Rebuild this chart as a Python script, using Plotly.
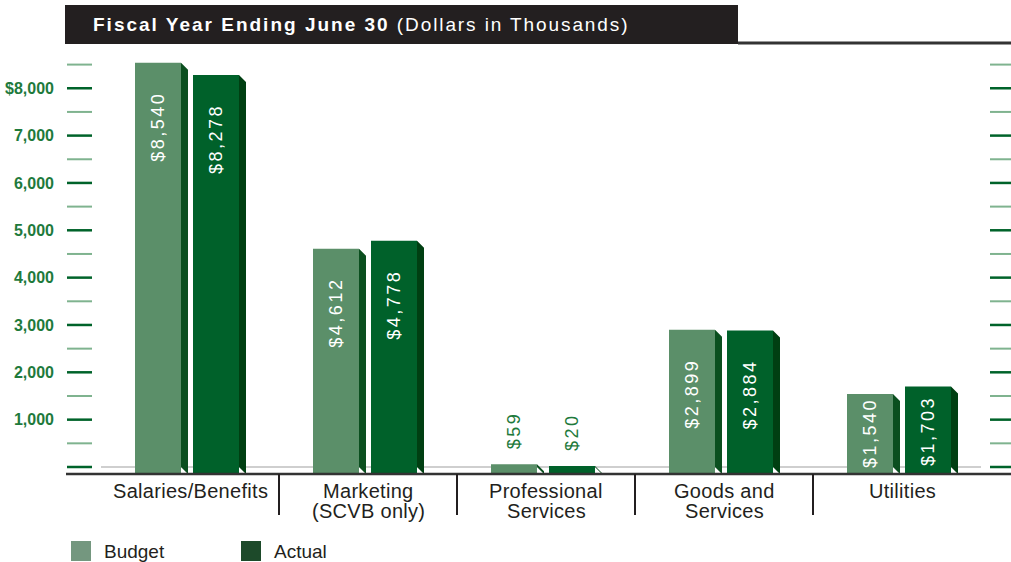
import plotly.graph_objects as go

# ---- data -------------------------------------------------------------
categories = ["Salaries/Benefits", "Marketing<br>(SCVB only)", "Professional<br>Services",
              "Goods and<br>Services", "Utilities"]
budget = [8540, 4612, 59, 2899, 1540]
actual = [8278, 4778, 20, 2884, 1703]
value_labels_budget = ["$8,540", "$4,612", "$59", "$2,899", "$1,540"]
value_labels_actual = ["$8,278", "$4,778", "$20", "$2,884", "$1,703"]
tick_values = [1000, 2000, 3000, 4000, 5000, 6000, 7000, 8000]
tick_labels = ["1,000", "2,000", "3,000", "4,000", "5,000", "6,000", "7,000", "$8,000"]
minor_tick_values = [500, 1500, 2500, 3500, 4500, 5500, 6500, 7500, 8500]

# ---- page geometry (pixels) ----------------------------------------------
W, H = 1011, 562
L, R = 101, 991          # plot area left / right
T, B = 44, 474           # plot area top / bottom (bottom = dark axis rule)
ZERO_PX = 467            # pixel row of value 0
UNIT_PX = 331.4 / 7000   # pixels per dollar (thousands)
CAT_PX = (R - L) / len(categories)
DEPTH = 7                # 3-D side depth in pixels
LABEL_LEN = 70           # approximate length of a rotated value label

y_lo = -(B - ZERO_PX) / UNIT_PX
y_hi = (ZERO_PX - T) / UNIT_PX
dx = DEPTH / CAT_PX
dy = DEPTH / UNIT_PX

BAR_W = 46 / CAT_PX
OFF_BUDGET = -55 / CAT_PX
OFF_ACTUAL = 3 / CAT_PX

C_BUDGET, C_BUDGET_SIDE = "#5b8f69", "#0b4f1f"
C_ACTUAL, C_ACTUAL_SIDE = "#00612a", "#003f12"
GREEN_TXT = "#1e7a3c"
INK = "#231f20"
FONT = "Liberation Sans, Arial, sans-serif"


def px_x(p):
    return (p - L) / (R - L)


def px_y(p):
    return (B - p) / (B - T)


xs = list(range(len(categories)))

fig = go.Figure()


def add_series(vals, off, face, side):
    # front faces
    fig.add_trace(go.Bar(x=xs, y=vals, width=[BAR_W] * len(xs), offset=off,
                         marker=dict(color=face, line=dict(width=0)),
                         showlegend=False, hoverinfo="skip"))
    # plinth below the zero line and the shaded right-hand side
    px_, py_, sx, sy = [], [], [], []
    for i, v in zip(xs, vals):
        x0 = i + off
        x1 = x0 + BAR_W
        cap = min(v, 1.0 / UNIT_PX)
        px_ += [x0, x1, x1, x0, x0, None]
        py_ += [cap, cap, y_lo, y_lo, cap, None]
        sx += [x1, x1 + dx, x1 + dx, x1, x1, None]
        sy += [v, v - dy, y_lo, 0, v, None]
    fig.add_trace(go.Scatter(x=px_, y=py_, fill="toself", fillcolor=face, mode="none",
                             showlegend=False, hoverinfo="skip"))
    fig.add_trace(go.Scatter(x=sx, y=sy, fill="toself", fillcolor=side, mode="none",
                             showlegend=False, hoverinfo="skip"))


add_series(budget, OFF_BUDGET, C_BUDGET, C_BUDGET_SIDE)
add_series(actual, OFF_ACTUAL, C_ACTUAL, C_ACTUAL_SIDE)

annotations = []

# value labels, rotated, inside the bar top (or above very short bars)
for vals, labels, off in ((budget, value_labels_budget, OFF_BUDGET),
                          (actual, value_labels_actual, OFF_ACTUAL)):
    for i, v, lab in zip(xs, vals, labels):
        inside = v > 600
        if inside:
            bar_px = v * UNIT_PX + (B - ZERO_PX)
            shift = -min(27, max(2, bar_px - LABEL_LEN - 10))
        else:
            shift = 13
        annotations.append(dict(
            x=i + off + BAR_W / 2, y=v, xref="x", yref="y",
            text=f'<span style="letter-spacing:2.5px">{lab}</span>',
            showarrow=False, textangle=-90,
            xanchor="center", yanchor="top" if inside else "bottom",
            yshift=shift,
            font=dict(family=FONT, size=18, color="white" if inside else GREEN_TXT)))

# category labels below the axis
for i, cat in zip(xs, categories):
    for k, line in enumerate(cat.split("<br>")):
        annotations.append(dict(
            x=i, y=px_y(491 + 20 * k), xref="x", yref="paper",
            text=f'<span style="letter-spacing:0.3px">{line}</span>',
            showarrow=False, xanchor="center", yanchor="middle",
            font=dict(family=FONT, size=20, color=INK)))

# title bar text
annotations.append(dict(
    x=px_x(91), y=px_y(25), xref="paper", yref="paper", xanchor="left", yanchor="middle",
    showarrow=False,
    text='<b><span style="letter-spacing:2px">Fiscal Year Ending June 30</span></b>'
         '<span style="letter-spacing:1.9px"> (Dollars in Thousands)</span>',
    font=dict(family=FONT, size=19, color="white")))

# legend
for x0, name, col in ((71, "Budget", "#74977f"), (241, "Actual", "#1d4a2a")):
    annotations.append(dict(
        x=px_x(x0 + 31), y=px_y(551), xref="paper", yref="paper", xanchor="left",
        yanchor="middle", showarrow=False, text=name,
        font=dict(family=FONT, size=19, color=INK)))

shapes = []
# title bar and top rule
shapes.append(dict(type="rect", xref="paper", yref="paper", x0=px_x(65), x1=px_x(738),
                   y0=px_y(44), y1=px_y(5), fillcolor=INK, line=dict(width=0)))
shapes.append(dict(type="line", xref="paper", yref="paper", x0=px_x(738), x1=px_x(1011),
                   y0=px_y(43), y1=px_y(43), line=dict(color="#333333", width=3)))
# light baseline at zero (behind bars)
shapes.append(dict(type="line", xref="paper", yref="y", x0=px_x(101), x1=px_x(981),
                   y0=0, y1=0, line=dict(color="#cfcfcf", width=2), layer="below"))
# dark axis rule
shapes.append(dict(type="line", xref="paper", yref="paper", x0=px_x(66), x1=px_x(1011),
                   y0=0, y1=0, line=dict(color="#333333", width=2.5)))
# category separators
for i in xs[:-1]:
    shapes.append(dict(type="line", xref="x", yref="paper", x0=i + 0.5, x1=i + 0.5,
                       y0=0, y1=px_y(515), line=dict(color=INK, width=2)))
# tick marks on both sides
for tv, col, wd in ([(v, "#00632a", 2.5) for v in [0] + tick_values] +
                    [(v, "#7fb38f", 2) for v in minor_tick_values]):
    for a, b in ((67, 92), (990, 1011)):
        shapes.append(dict(type="line", xref="paper", yref="y", x0=px_x(a), x1=px_x(b),
                           y0=tv, y1=tv, line=dict(color=col, width=wd)))
# legend swatches
for x0, col in ((71, "#74977f"), (241, "#1d4a2a")):
    shapes.append(dict(type="rect", xref="paper", yref="paper", x0=px_x(x0), x1=px_x(x0 + 20),
                       y0=px_y(561), y1=px_y(541), fillcolor=col, line=dict(width=0)))

fig.update_layout(
    width=W, height=H,
    margin=dict(l=L, r=W - R, t=T, b=H - B, pad=0, autoexpand=False),
    paper_bgcolor="white", plot_bgcolor="white",
    barmode="overlay",
    showlegend=False,
    xaxis=dict(range=[-0.5, len(categories) - 0.5], showticklabels=False, showgrid=False,
               zeroline=False, showline=False, ticks="", automargin=False),
    yaxis=dict(range=[y_lo, y_hi], tickvals=tick_values, ticktext=tick_labels,
               showgrid=False, zeroline=False, showline=False, ticks="",
               ticklabelstandoff=46, automargin=False,
               tickfont=dict(family=FONT, size=16, color=GREEN_TXT, weight="bold")),
    annotations=annotations,
    shapes=shapes,
)

fig.write_html("out.html")
